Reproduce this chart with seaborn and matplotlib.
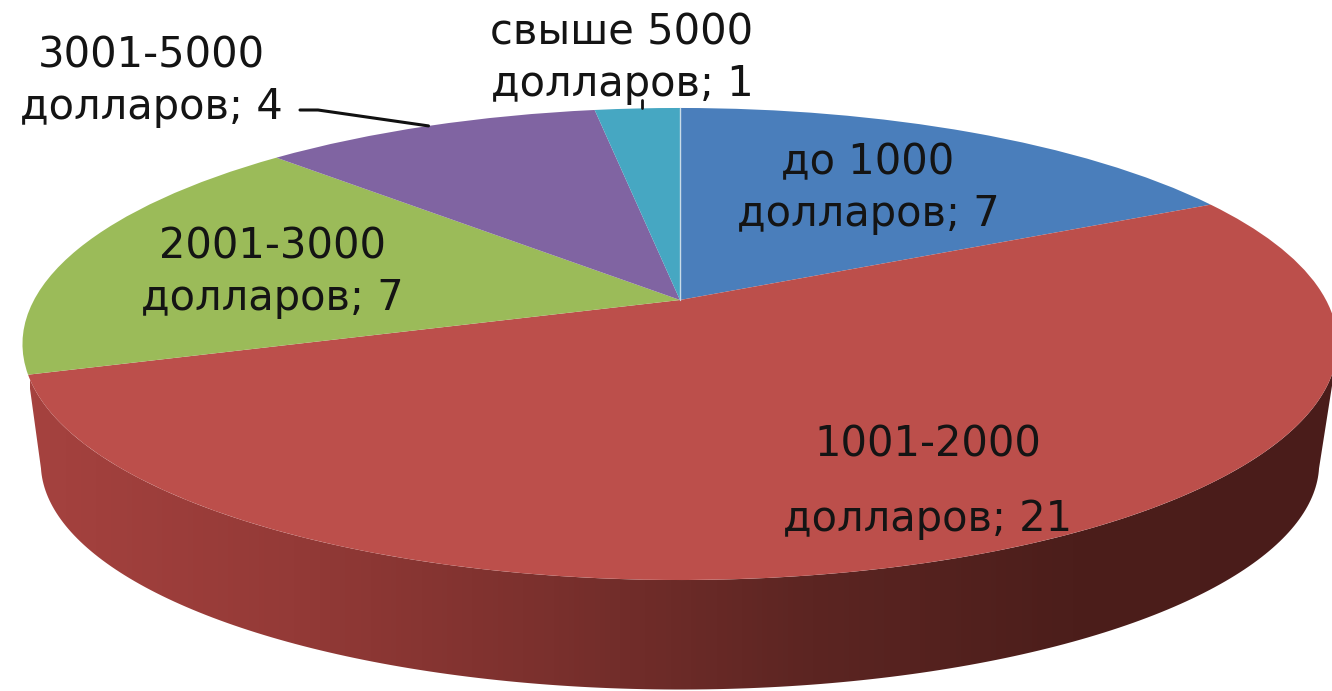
import numpy as np
import seaborn as sns
import matplotlib.pyplot as plt
from matplotlib.colors import LinearSegmentedColormap
from matplotlib.patches import Polygon
from matplotlib.transforms import Transform

#%% DATA
categories = ['до 1000\nдолларов', '1001-2000\nдолларов', '2001-3000\nдолларов',
              '3001-5000\nдолларов', 'свыше 5000\nдолларов']
values = [7, 21, 7, 4, 1]
slice_colors = ['#4a7ebb', '#bc4f4b', '#9bbb59', '#8064a2', '#46a7c2']
wall_colors = ['#a5423f', '#943a37', '#7a302d', '#5c2522', '#4c1e1b', '#4a1c1a']

label_x = [868, 928, 272, 151, 622]
label_y = [188, 482, 272, 81, 58]
label_spacing = [1.3, 2.0, 1.3, 1.3, 1.3]


#%% PERSPECTIVE OF THE TILTED DISC
class Tilt(Transform):
    input_dims = 2
    output_dims = 2

    def __init__(self, x0, d, a, b, c):
        super().__init__()
        self.x0, self.d, self.a, self.b, self.c = x0, d, a, b, c

    def transform_non_affine(self, pts):
        pts = np.asarray(pts)
        w = 1 + self.c * pts[:, 1]
        return np.column_stack([self.x0 + self.d * pts[:, 0] / w,
                                (self.a * pts[:, 1] + self.b) / w])


def on_rim(tilt, deg):
    t = np.radians(np.atleast_1d(deg))
    return tilt.transform(np.column_stack([np.sin(t), np.cos(t)]))


top = Tilt(680, 646, -171.9, 300, 0.1864)
bottom = Tilt(680, 628, -140, 421, 0.1864)

#%% PLOT
sns.set_theme(style='white')
plt.rcParams['font.family'] = ['DejaVu Sans']

fig = plt.figure(figsize=(13.32, 6.91), dpi=100)
ax = fig.add_axes([0, 0, 1, 1])

wedges, _ = ax.pie(values, colors=sns.color_palette(slice_colors), startangle=90,
                   counterclock=False, wedgeprops={'linewidth': 0})
for w in wedges:
    w.set_transform(top + ax.transData)
    w.set_zorder(3)

# side wall, front part of the rim between the two outer edges
wall = np.vstack([on_rim(top, np.linspace(104, 252, 200)),
                  on_rim(bottom, np.linspace(258, 102, 200))])
wall_patch = Polygon(wall, closed=True, transform=ax.transData, facecolor='none', edgecolor='none')
ax.add_patch(wall_patch)
cmap = LinearSegmentedColormap.from_list('wall', wall_colors)
im = ax.imshow(np.linspace(0, 1, 256)[None, :], cmap=cmap, aspect='auto',
               extent=[30, 1332, 691, 0], zorder=2)
im.set_clip_path(wall_patch)

ax.set_aspect('auto')
ax.set_xlim(0, 1332)
ax.set_ylim(691, 0)
ax.axis('off')

# pale seam between first and last slice
seam = top.transform(np.array([[0, 0], [0, 1]]))
ax.plot(seam[:, 0], seam[:, 1], color='#c9dbe8', lw=1, zorder=4)

for cat, val, x, y, sp in zip(categories, values, label_x, label_y, label_spacing):
    ax.text(x, y, f'{cat}; {val}', ha='center', va='center', fontsize=30,
            color='#141414', linespacing=sp, zorder=6)

# leader lines
end_purple = on_rim(top, 333)[0]
ax.plot([300, 318, end_purple[0]], [110, 110, end_purple[1]], color='#111111', lw=2.2, zorder=5)
end_teal = on_rim(top, 356)[0]
ax.plot([end_teal[0], end_teal[0]], [100, end_teal[1]], color='#111111', lw=2, zorder=5)

plt.savefig('out.png', dpi=100)
